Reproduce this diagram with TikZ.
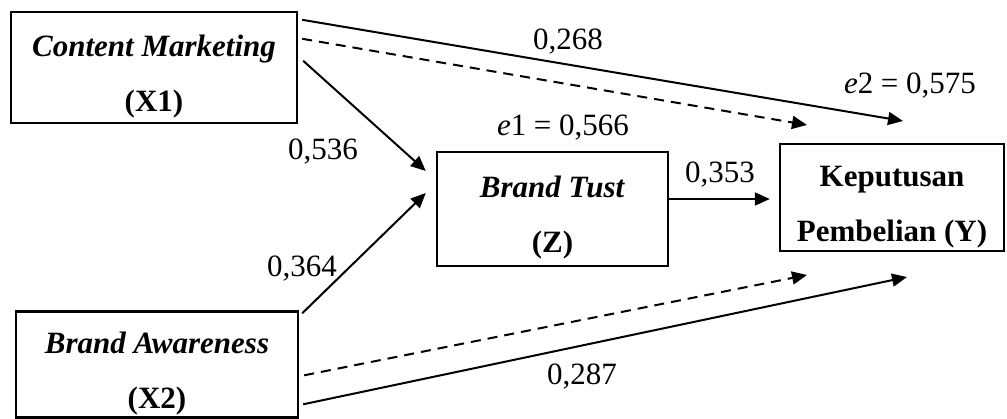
\documentclass[tikz,border=0pt]{standalone}
\usepackage{fontspec}
\setmainfont{Liberation Serif}
\usetikzlibrary{arrows.meta,calc}
\newcommand{\topstrut}{\rule{0pt}{39pt}}
\begin{document}
\begin{tikzpicture}[x=1pt,y=-1pt,
  box/.style={draw,line width=2.4pt,inner sep=0pt,align=center,
    font=\fontsize{31}{55}\selectfont\bfseries},
  link/.style={line width=2pt,-{Triangle[length=15pt,width=13pt]}},
  dlink/.style={link,dash pattern=on 10pt off 7pt},
  lbl/.style={inner sep=0pt,font=\fontsize{31}{36}\selectfont}]
\useasboundingbox (0,0) rectangle (1007,419);
\node[box,minimum width=286pt,minimum height=111pt] (x1) at (154,67.5) {\topstrut\textit{Content Marketing}\\(X1)};
\node[box,minimum width=282pt,minimum height=106pt] (x2) at (157,364.5) {\topstrut\textit{Brand Awareness}\\(X2)};
\node[box,minimum width=231pt,minimum height=114pt] (z) at (552.5,209) {\topstrut\textit{Brand Tust}\\(Z)};
\node[box,minimum width=224pt,minimum height=107pt] (y) at (892,197.5) {\topstrut Keputusan\\Pembelian (Y)};
\coordinate (t1) at (903,121);
\coordinate (t2) at (807,125);
\coordinate (t6) at (807,275);
\coordinate (t7) at (907,277);
\draw[link] ([shift={(4,9)}]x1.north east) -- (t1);
\draw[dlink] ([shift={(4,28)}]x1.north east) -- (t2);
\draw[link] ([shift={(5,50)}]x1.north east) -- ([shift={(-10,-38)}]z.west);
\draw[link] ([shift={(3,3)}]x2.north east) -- ([shift={(-10,-16)}]z.west);
\draw[link] ([yshift=10pt]z.east) -- ([shift={(-9,1.5)}]y.west);
\draw[dlink] ([shift={(5,65)}]x2.north east) -- (t6);
\draw[link] ([shift={(4,94)}]x2.north east) -- (t7);
\node[lbl] (l1) at (568,42) {0,268};
\node[lbl] (l2) at (910,86) {\textit{e}2 = 0,575};
\node[lbl] (l3) at (563,128) {\textit{e}1 = 0,566};
\node[lbl] (l4) at (323,152) {0,536};
\node[lbl] (l5) at (720,175) {0,353};
\node[lbl] (l6) at (302,269) {0,364};
\node[lbl] (l7) at (582,377) {0,287};
\end{tikzpicture}
\end{document}
